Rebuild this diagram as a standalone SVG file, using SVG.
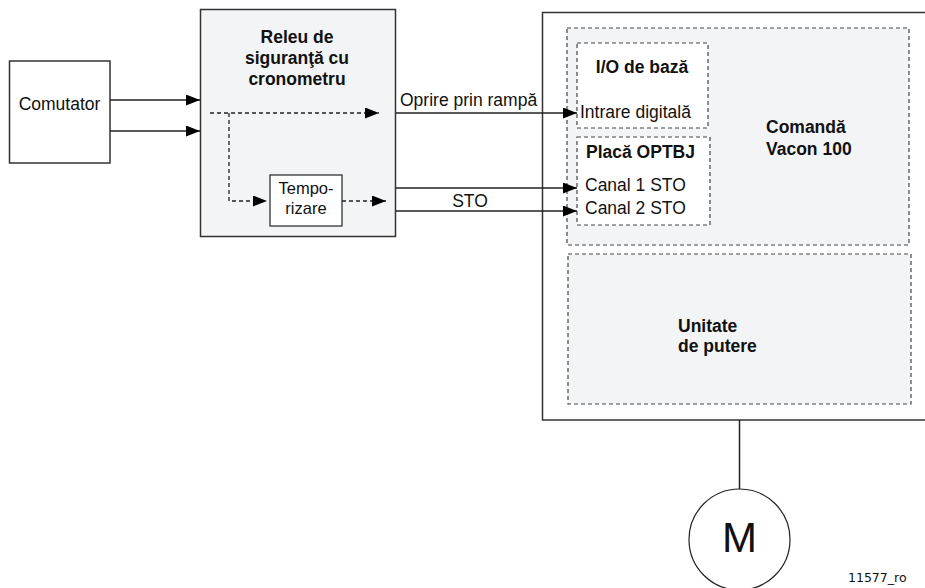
<svg xmlns="http://www.w3.org/2000/svg" width="925" height="588" viewBox="0 0 925 588">
<style>
.box{fill:#fff;stroke:#333;stroke-width:1.5}
.gray{fill:#f3f4f6;stroke:#333;stroke-width:1.5}
.dbox{stroke:#444;stroke-width:1.2;stroke-dasharray:4 3}
.t{font-family:"Liberation Sans",Arial,sans-serif;font-size:17.5px;fill:#111}
.b{font-family:"Liberation Sans",Arial,sans-serif;font-size:17.5px;font-weight:bold;fill:#111}
.c{text-anchor:middle}
.ln{fill:none;stroke:#222;stroke-width:1.5}
.dl{fill:none;stroke:#222;stroke-width:1.3;stroke-dasharray:4 3}
</style>
<defs>
<marker id="ah" markerUnits="userSpaceOnUse" markerWidth="14" markerHeight="11" refX="14" refY="5.5" orient="auto">
<path d="M0,0 L14,5.5 L0,11 z" fill="#000"/>
</marker>
</defs>
<g id="drive">
<rect class="box" x="542.5" y="12.5" width="420" height="407.5"/>
</g>
<g id="comanda">
<rect class="dbox" x="567" y="28" width="342" height="217" fill="#f3f4f6"/>
<text class="b" x="766" y="133">Comandă</text>
<text class="b" x="766" y="155">Vacon 100</text>
</g>
<g id="io">
<rect class="dbox" x="577" y="43" width="131" height="85" fill="#fff"/>
<text class="b c" x="642" y="73">I/O de bază</text>
<text class="t" x="580" y="118">Intrare digitală</text>
</g>
<g id="optbj">
<rect class="dbox" x="577" y="137" width="133" height="88" fill="#fff"/>
<text class="b" x="586" y="158">Placă OPTBJ</text>
<text class="t" x="585" y="191">Canal 1 STO</text>
<text class="t" x="585" y="214">Canal 2 STO</text>
</g>
<g id="unitate">
<rect class="dbox" x="568" y="254" width="343" height="150" fill="#f3f4f6"/>
<text class="b" x="678" y="332">Unitate</text>
<text class="b" x="678" y="352">de putere</text>
</g>
<g id="comutator">
<rect class="box" x="9.5" y="61" width="100.5" height="102"/>
<text class="t c" x="59.5" y="110">Comutator</text>
</g>
<g id="releu">
<rect class="gray" x="200.5" y="9.5" width="195" height="227"/>
<text class="b c" x="297" y="43">Releu de</text>
<text class="b c" x="297" y="63.5">siguranţă cu</text>
<text class="b c" x="297" y="84.5">cronometru</text>
</g>
<g id="temporizare">
<rect x="270" y="175" width="72" height="51" fill="#fff" stroke="#222" stroke-width="1.2"/>
<text class="t c" x="306" y="194" style="font-size:16.5px">Tempo-</text>
<text class="t c" x="306" y="213.5" style="font-size:16.5px">rizare</text>
</g>
<g id="motor">
<circle cx="739.5" cy="539.5" r="50.5" fill="#fff" stroke="#222" stroke-width="1.2"/>
<text x="739.5" y="552" text-anchor="middle" font-family="Liberation Sans,Arial,sans-serif" font-size="42" fill="#111">M</text>
</g>
<g id="connectors">
<path class="ln" d="M110,100 H200" marker-end="url(#ah)"/>
<path class="ln" d="M110,131 H200" marker-end="url(#ah)"/>
<path class="dl" d="M210,113 H379" marker-end="url(#ah)"/>
<path class="dl" d="M229,113 V201 H267" marker-end="url(#ah)"/>
<path class="dl" d="M342,201 H386" marker-end="url(#ah)"/>
<path class="ln" d="M396,113 H577" marker-end="url(#ah)"/>
<path class="ln" d="M396,188 H577" marker-end="url(#ah)"/>
<path class="ln" d="M396,211 H577" marker-end="url(#ah)"/>
<path class="ln" d="M739.5,420 V489" stroke-width="2"/>
<text class="t" x="400" y="106">Oprire prin rampă</text>
<text class="t c" x="470" y="207">STO</text>
</g>
<text x="848" y="582" font-family="DejaVu Sans,Verdana,sans-serif" font-size="12.5" fill="#111">11577_ro</text>
</svg>
